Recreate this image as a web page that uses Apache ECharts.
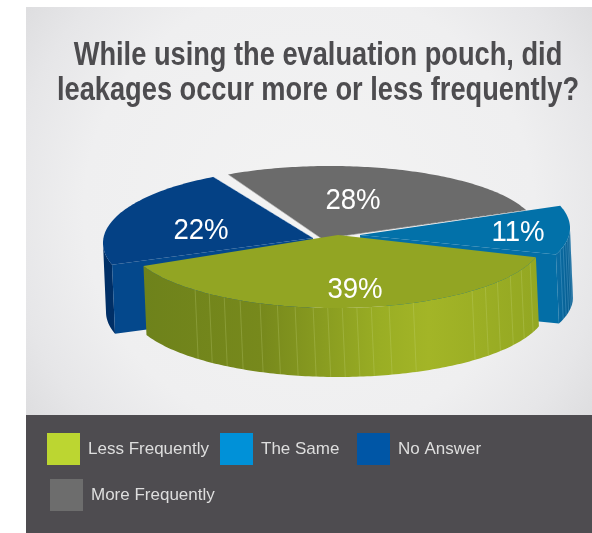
<!DOCTYPE html>
<html><head><meta charset="utf-8">
<style>html,body{margin:0;padding:0;background:#fff}#c{width:592px;height:533px}</style>
<script src="https://cdn.jsdelivr.net/npm/echarts@6/dist/echarts.min.js"></script>
</head><body><div id="c"></div>
<script>
const titleLines = ['While using the evaluation pouch, did', 'leakages occur more or less frequently?'];
const categories = ['More Frequently', 'No Answer', 'The Same', 'Less Frequently'];
const values = [28, 22, 11, 39];
const legendColors = ['#6d6d6d', '#0056a6', '#0091d8', '#bcd631'];
const FONT = '"Liberation Sans",sans-serif';

// drawing style of each slice (exploded, hand-tilted look of the original)
const looks = [
  {start:240.5, cx:330, cy:231, a:207, b:65, apex:[322,239], top:'#6b6b6b', label:[353,201], edge:'rgba(200,200,200,.7)'},
  {start:163, cx:310, cy:243, a:207, b:74.7, apex:[313,238], top:'#044185', label:[201,231], face:'start', faceColor:'#04488c', wall:'#002f66', edge:'rgba(170,195,225,.6)'},
  {start:342, cx:370, cy:228, a:200, b:72, apex:[360,235], top:'#0271a9', label:[518,233], face:'end', faceColor:'#036ea6',
   wall:['#0a6ea6','#05598c'], lines:[3,6,9,12,15,18], lineColor:'rgba(130,190,225,.4)'},
  {start:16, cx:335, cy:238, a:209, b:70, apex:[338,235], top:'#92a523', label:[355,290],
   wall:[[0,'#6e821b'],[.3,'#77891c'],[.6,'#9aae24'],[.72,'#a3b527'],[1,'#93a722']],
   lines:[21,27,33,39,44,49,68,75,80,84,88,92,96,101,106,111,117,122,127,132], lineColor:'rgba(205,220,140,.3)'}
];
const DEPTH = [3, 69];
const rad = d => d * Math.PI / 180;

function renderSlice(i) {
  const L = looks[i], sweep = values[i] * 3.6, end = L.start + sweep;
  const pt = t => [L.cx + L.a * Math.cos(rad(t)), L.cy + L.b * Math.sin(rad(t))];
  const low = p => [p[0] + DEPTH[0], p[1] + DEPTH[1]];
  const kids = [];
  const arc = [];
  for (let t = L.start; t < end; t += 1) arc.push(pt(t));
  arc.push(pt(end));

  if (L.wall) {
    const vis = [];
    for (let t = L.start; t < end; t += 1) if (Math.sin(rad(t)) >= 0) vis.push(pt(t));
    if (Math.sin(rad(end)) >= 0) vis.push(pt(end));
    if (vis.length) {
      let fill = L.wall;
      if (Array.isArray(L.wall)) {
        const stops = typeof L.wall[0] === 'string'
          ? [{offset:0,color:L.wall[0]},{offset:1,color:L.wall[1]}]
          : L.wall.map(s => ({offset:s[0],color:s[1]}));
        fill = new echarts.graphic.LinearGradient(0,0,1,0,stops);
      }
      kids.push({type:'polygon', shape:{points:vis.concat(vis.slice().reverse().map(low))}, style:{fill}});
    }
  }
  if (L.lines) L.lines.forEach(t => {
    const p = pt(t), q = low(p);
    kids.push({type:'line', shape:{x1:p[0],y1:p[1],x2:q[0],y2:q[1]}, style:{stroke:L.lineColor, lineWidth:.8}});
  });
  if (L.face) {
    const p = pt(L.face === 'start' ? L.start : end);
    kids.push({type:'polygon', shape:{points:[p, L.apex, low(L.apex), low(p)]}, style:{fill:L.faceColor}});
  }
  kids.push({type:'polygon', shape:{points:[L.apex].concat(arc)}, style:{fill:L.top}});
  if (L.edge) {
    const p = pt(end), s = pt(L.start);
    kids.push({type:'line', shape:{x1:p[0],y1:p[1],x2:L.apex[0],y2:L.apex[1]}, style:{stroke:L.edge, lineWidth:.8, lineDash:[5,2]}});
    if (i === 0) kids.push({type:'line', shape:{x1:s[0],y1:s[1],x2:L.apex[0],y2:L.apex[1]}, style:{stroke:'rgba(190,190,190,.8)', lineWidth:.8}});
  }
  kids.push({type:'text', z2:50, x:L.label[0], y:L.label[1], scaleX:.92, style:{text:values[i]+'%', x:0, y:0, align:'center', verticalAlign:'middle',
    fill:'#fff', font:'30px '+FONT}});
  return {type:'group', children:kids};
}

const legendBoxes = [
  {name:'Less Frequently', left:47, top:433},
  {name:'The Same', left:220, top:433},
  {name:'No Answer', left:357, top:433},
  {name:'More Frequently', left:50, top:479}
];

const chart = echarts.init(document.getElementById('c'), null, {renderer:'canvas'});
chart.setOption({
  animation:false,
  graphic:[
    {type:'rect', z:-10, shape:{x:26,y:7,width:566,height:408}, style:{fill:new echarts.graphic.RadialGradient(.5,.5,.92,[
      {offset:0,color:'#f3f3f3'},{offset:.6,color:'#efeff0'},{offset:.8,color:'#e6e6e8'},{offset:1,color:'#d9d9db'}])}},
    {type:'rect', z:-10, shape:{x:26,y:415,width:566,height:118}, style:{fill:'#4e4c50'}},
  ].concat(titleLines.map((t,k)=>({
    type:'text', z:5, x:318, y:56+k*35, scaleX:.825,
    style:{text:t, x:0, y:0, align:'center', verticalAlign:'middle', fill:'#4d4c4f', font:'bold 33px '+FONT}
  }))),
  legend:legendBoxes.map(b=>({
    left:b.left, top:b.top, orient:'horizontal', itemWidth:33, itemHeight:32, itemGap:0, selectedMode:false, padding:0,
    data:[{name:b.name, icon:'rect', itemStyle:{color:legendColors[categories.indexOf(b.name)]}}],
    textStyle:{color:'#dedede', fontFamily:FONT, fontSize:17, padding:[0,0,0,3]}
  })),
  series:categories.map((name,i)=>({
    type:'custom', name, coordinateSystem:'none', silent:true, z:2+i,
    data:[[values[i]]],
    renderItem:()=>renderSlice(i)
  }))
});
</script></body></html>
